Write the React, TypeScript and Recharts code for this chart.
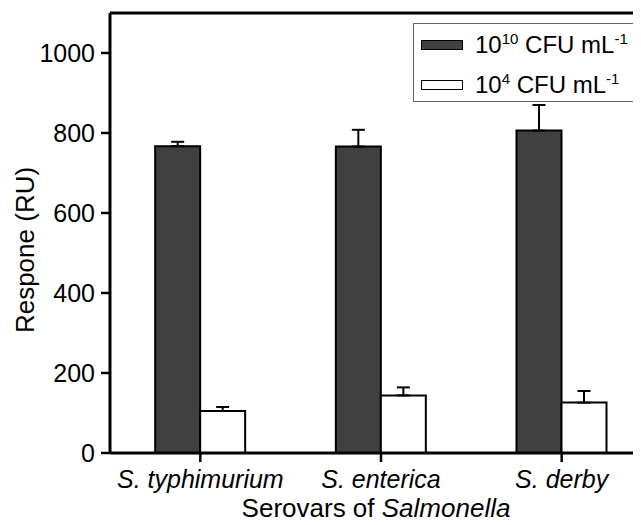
import React from 'react';
import { BarChart, Bar, XAxis, YAxis, ErrorBar, ReferenceLine, Legend } from 'recharts';

const categories = ['S. typhimurium', 'S. enterica', 'S. derby'];
const highValues = [767, 766, 806];
const highErrors = [11, 42, 64];
const lowValues = [105, 144, 126];
const lowErrors = [10, 20, 29];
const yTicks = [0, 200, 400, 600, 800, 1000];
const seriesLabels = [
  { key: 'high', exp: '10', fill: '#404040' },
  { key: 'low', exp: '4', fill: '#ffffff' },
];

const data = categories.map((c, i) => ({
  name: c,
  high: highValues[i],
  highErr: [0, highErrors[i]],
  low: lowValues[i],
  lowErr: [0, lowErrors[i]],
}));

const FONT = '"Liberation Sans", Arial, Helvetica, sans-serif';

const LegendBox = () => (
  <div
    style={{
      position: 'relative',
      width: 260,
      height: 79,
      border: '1.5px solid #666',
      background: '#fff',
      boxSizing: 'border-box',
      fontFamily: FONT,
      color: '#000',
    }}
  >
    {seriesLabels.map((s, i) => (
      <div
        key={s.key}
        style={{
          position: 'absolute',
          left: 7,
          top: 6 + i * 40,
          height: 30,
          display: 'flex',
          alignItems: 'center',
          whiteSpace: 'nowrap',
        }}
      >
        <div
          style={{
            width: 42,
            height: 10,
            background: s.fill,
            border: '1.5px solid #000',
            boxSizing: 'border-box',
            marginRight: 12,
          }}
        />
        <span style={{ fontSize: 24, lineHeight: '30px' }}>
          10
          <span style={{ fontSize: 15, verticalAlign: 'top', position: 'relative', top: -6 }}>{s.exp}</span>
          {' CFU mL'}
          <span style={{ fontSize: 15, verticalAlign: 'top', position: 'relative', top: -6 }}>-1</span>
        </span>
      </div>
    ))}
  </div>
);

export default function App() {
  return (
    <div style={{ width: 633, height: 517, overflow: 'hidden' }}>
      <BarChart
        width={660}
        height={517}
        data={data}
        margin={{ top: 5, right: 16, bottom: 0, left: 0 }}
        barCategoryGap="25%"
        barGap={0}
      >
        <ReferenceLine y={1100} stroke="#000" strokeWidth={3} />
        <XAxis
          dataKey="name"
          height={72}
          axisLine={{ stroke: '#000', strokeWidth: 3 }}
          tickLine={{ stroke: '#000', strokeWidth: 2.5 }}
          tickSize={9}
          tickMargin={8}
          interval={0}
          tick={{ fill: '#000', fontSize: 25, fontStyle: 'italic', fontFamily: FONT }}
          label={{
            content: () => (
              <text x={368} y={509} textAnchor="middle" fontSize={26} fontFamily={FONT} fill="#000">
                <tspan>Serovars of </tspan>
                <tspan fontStyle="italic">Salmonella</tspan>
              </text>
            ),
          }}
        />
        <YAxis
          type="number"
          domain={[0, 1100]}
          ticks={yTicks}
          width={102}
          axisLine={{ stroke: '#000', strokeWidth: 3 }}
          tickLine={{ stroke: '#000', strokeWidth: 2.5 }}
          tickSize={9}
          tickMargin={6}
          tick={{ fill: '#000', fontSize: 25, fontFamily: FONT }}
          label={{
            content: () => (
              <text
                x={17}
                y={242}
                transform="rotate(-90 17 242)"
                textAnchor="middle"
                dominantBaseline="central"
                fontSize={26}
                fontFamily={FONT}
                fill="#000"
              >
                Respone (RU)
              </text>
            ),
          }}
        />
        <Legend
          layout="vertical"
          align="center"
          verticalAlign="middle"
          wrapperStyle={{ top: 15, left: 405, width: 260, height: 79 }}
          content={() => <LegendBox />}
        />
        <Bar dataKey="high" fill="#404040" stroke="#000" strokeWidth={2} isAnimationActive={false}>
          <ErrorBar dataKey="highErr" width={6.5} stroke="#000" strokeWidth={2} direction="y" />
        </Bar>
        <Bar dataKey="low" fill="#ffffff" stroke="#000" strokeWidth={2} isAnimationActive={false}>
          <ErrorBar dataKey="lowErr" width={6.5} stroke="#000" strokeWidth={2} direction="y" />
        </Bar>
      </BarChart>
    </div>
  );
}
